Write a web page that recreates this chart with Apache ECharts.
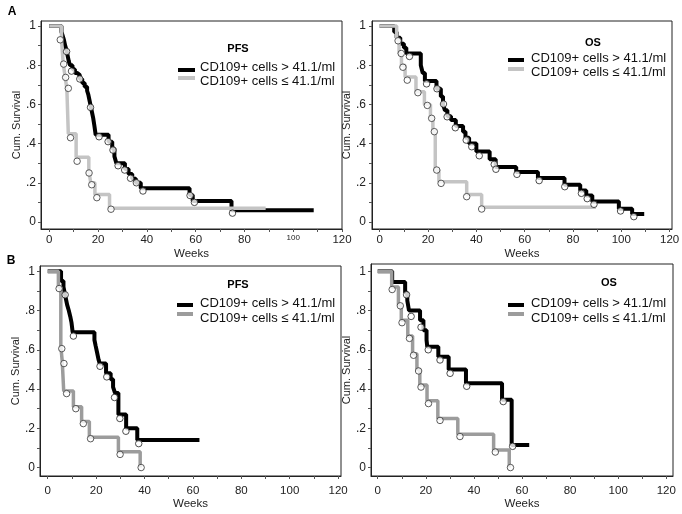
<!DOCTYPE html>
<html><head><meta charset="utf-8">
<script src="https://cdn.jsdelivr.net/npm/echarts@6/dist/echarts.min.js"></script>
<style>html,body{margin:0;padding:0;background:#fff}#c{width:682px;height:514px}</style>
</head><body><div id="c"></div>
<script>
// ---------- texts & ticks ----------
const weekTicks = [0, 20, 40, 60, 80, 100, 120];
const weekMinorTicks = [0, 10, 20, 30, 40, 50, 60, 70, 80, 90, 100, 110, 120];
const survTicks = [0, 0.2, 0.4, 0.6, 0.8, 1];
const survMinorTicks = [0, 0.1, 0.2, 0.3, 0.4, 0.5, 0.6, 0.7, 0.8, 0.9, 1];
const panelTitles = ['PFS', 'OS', 'PFS', 'OS'];
const panelLetters = ['A', 'B'];
const groupNames = ['CD109+ cells > 41.1/ml', 'CD109+ cells \u2264 41.1/ml'];
const xAxisName = 'Weeks';
const yAxisName = 'Cum. Survival';

// ---------- A: PFS ----------
const aPfsHighT = [0,5,5.5,6,6.5,7,7.5,8,8.5,9.5,10.5,11.5,12.5,13.5,14.5,15.5,16,16.5,17,17.5,18,18.5,19,24.3,25.8,26.7,27.5,31,32.5,34,35.5,37.5,57.5,58.8,74.7,108.4];
const aPfsHighS = [1,0.97,0.95,0.93,0.9,0.88,0.85,0.82,0.8,0.78,0.76,0.75,0.73,0.71,0.69,0.67,0.65,0.62,0.59,0.56,0.53,0.49,0.445,0.41,0.375,0.335,0.3,0.27,0.245,0.22,0.2,0.172,0.138,0.107,0.06,0.06];
const aPfsHighCensT = [7.1,9.1,12.5,16.9,20.4,24.1,26.1,28.2,30.9,33.3,35.7,38.4,57.7,59.5,75.1];
const aPfsHighCensS = [0.87,0.77,0.73,0.585,0.435,0.41,0.367,0.287,0.265,0.223,0.2,0.158,0.135,0.1,0.045];
const aPfsLowT = [0,5,5.7,6.5,7.2,7.8,11,16.2,17,18.7,24.7,88.7];
const aPfsLowS = [1,0.93,0.81,0.74,0.68,0.45,0.33,0.26,0.2,0.14,0.07,0.07];
const aPfsLowCensT = [4.5,5.9,6.7,7.8,8.7,11.4,16.3,17.4,19.5,25.3];
const aPfsLowCensS = [0.93,0.806,0.738,0.682,0.43,0.31,0.25,0.19,0.124,0.065];

// ---------- A: OS ----------
const aOsHighT = [0,6,7,8.5,10,11,17,17.8,18.7,23.5,25.3,26.2,27,28,29.5,31.5,34.5,35.5,37,40,45.5,48,56.5,65.5,76.5,83,85.5,88,99,104.5,109.5];
const aOsHighS = [1,0.97,0.94,0.91,0.89,0.86,0.8,0.76,0.72,0.68,0.64,0.6,0.57,0.54,0.52,0.49,0.46,0.43,0.4,0.36,0.32,0.28,0.255,0.225,0.19,0.16,0.135,0.105,0.067,0.04,0.04];
const aOsHighCensT = [12.3,19.4,23.7,26.4,27.9,31.3,35.8,38.1,41.2,47.4,48.1,56.8,66,76.6,83.5,85.9,88.7,99.7,105.2];
const aOsHighCensS = [0.845,0.705,0.68,0.602,0.537,0.481,0.418,0.384,0.338,0.294,0.269,0.243,0.211,0.18,0.146,0.119,0.09,0.056,0.027];
const aOsLowT = [0,7,8,9,10.5,15,18.5,21,22,23,24.5,36,42.2,89.5];
const aOsLowS = [1,0.93,0.86,0.8,0.74,0.665,0.6,0.53,0.46,0.265,0.205,0.14,0.075,0.075];
const aOsLowCensT = [7.6,8.9,9.6,11.4,15.8,19.7,21.5,22.6,23.6,25.4,36,42.2];
const aOsLowCensS = [0.925,0.86,0.79,0.724,0.66,0.595,0.529,0.461,0.265,0.197,0.129,0.066];

// ---------- B: PFS ----------
const bPfsHighT = [0,5.5,6.5,7,7.5,8,8.7,9.3,9.8,10.3,19.3,19.8,20.5,21,21.5,24.1,26,27,27.8,29.2,32.4,37,62.7];
const bPfsHighS = [1,0.95,0.92,0.89,0.86,0.83,0.8,0.77,0.74,0.69,0.65,0.62,0.58,0.55,0.53,0.48,0.45,0.41,0.38,0.27,0.2,0.14,0.14];
const bPfsHighCensT = [7.2,10.6,21.6,24.4,27.6,29.8,32.3,37.6];
const bPfsHighCensS = [0.88,0.67,0.516,0.462,0.357,0.25,0.185,0.122];
const bPfsLowT = [0,4.4,5.4,6,6.6,10.6,14,17.2,29.2,38.2];
const bPfsLowS = [1,0.92,0.62,0.54,0.39,0.31,0.235,0.155,0.08,0];
const bPfsLowCensT = [4.7,5.8,6.7,7.8,11.6,14.7,17.7,29.9,38.6];
const bPfsLowCensS = [0.912,0.606,0.53,0.377,0.3,0.224,0.147,0.067,0];

// ---------- B: OS ----------
const bOsHighT = [0,6,11.4,12.3,13,17.6,19,20.3,20.6,25.2,29.5,36.7,51.7,55.7,63];
const bOsHighS = [1,0.945,0.89,0.85,0.8,0.75,0.7,0.65,0.615,0.565,0.5,0.43,0.345,0.115,0.115];
const bOsHighCensT = [12,13.9,18,21,25.9,30.1,37,52.2,56.1];
const bOsHighCensS = [0.88,0.77,0.715,0.6,0.548,0.48,0.414,0.336,0.108];
const bOsLowT = [0,5.8,8.6,9.8,12.5,14.5,16.3,17.5,20.5,25,33.3,48.2,54.7];
const bOsLowS = [1,0.92,0.83,0.75,0.67,0.58,0.5,0.42,0.34,0.25,0.17,0.09,0];
const bOsLowCensT = [6,9.4,10.1,13.2,14.9,17,18,21.1,25.9,34.2,48.9,55.2];
const bOsLowCensS = [0.907,0.824,0.738,0.658,0.572,0.492,0.41,0.326,0.24,0.158,0.079,0];

const curves = [
  {hT:aPfsHighT,hS:aPfsHighS,hcT:aPfsHighCensT,hcS:aPfsHighCensS,lT:aPfsLowT,lS:aPfsLowS,lcT:aPfsLowCensT,lcS:aPfsLowCensS},
  {hT:aOsHighT,hS:aOsHighS,hcT:aOsHighCensT,hcS:aOsHighCensS,lT:aOsLowT,lS:aOsLowS,lcT:aOsLowCensT,lcS:aOsLowCensS},
  {hT:bPfsHighT,hS:bPfsHighS,hcT:bPfsHighCensT,hcS:bPfsHighCensS,lT:bPfsLowT,lS:bPfsLowS,lcT:bPfsLowCensT,lcS:bPfsLowCensS},
  {hT:bOsHighT,hS:bOsHighS,hcT:bOsHighCensT,hcS:bOsHighCensS,lT:bOsLowT,lS:bOsLowS,lcT:bOsLowCensT,lcS:bOsLowCensS}
];

// ---------- layout (pixels / styles) ----------
const FONT = '"Liberation Sans", Arial, sans-serif';
const layout = [
  {left:41, top:21, width:301, height:208, xMin:-3.4, xMax:120, yMin:-0.036, yMax:1.026, gray:'#c4c4c4',
   xLabelMargin:5, xNameGap:19, yNameGap:12, yLabelMargin:5,
   title:[238, 49], legLine:[178,195,70,78], legText:[200,67.7,81.7]},
  {left:372, top:21, width:300, height:208, xMin:-3.2, xMax:121, yMin:-0.036, yMax:1.026, gray:'#c4c4c4',
   xLabelMargin:5, xNameGap:19, yNameGap:13, yLabelMargin:6,
   title:[593, 43], legLine:[508,524,60,69], legText:[531,58.3,72.7]},
  {left:40, top:266, width:301, height:210, xMin:-3.2, xMax:121.2, yMin:-0.043, yMax:1.027, gray:'#9c9c9c',
   xLabelMargin:9, xNameGap:21, yNameGap:11, yLabelMargin:5,
   title:[238, 285], legLine:[177,193,305,314], legText:[200,303.7,318.7]},
  {left:371, top:264, width:302, height:212, xMin:-2.8, xMax:122.8, yMin:-0.043, yMax:1.037, gray:'#9c9c9c',
   xLabelMargin:9, xNameGap:21, yNameGap:12, yLabelMargin:5,
   title:[609, 283], legLine:[508,524,305,314], legText:[531,303,318]}
];
const letterPos = [[12, 12], [11, 261]];

const pts = (T, S) => T.map((t, i) => [t, S[i]]);

const grid = [], xAxis = [], yAxis = [], series = [], graphic = [];
layout.forEach((p, i) => {
  grid.push({left:p.left, top:p.top, width:p.width, height:p.height, show:true,
    borderColor:'#222', borderWidth:1, containLabel:false, outerBoundsMode:'none'});
  xAxis.push({type:'value', gridIndex:i, min:p.xMin, max:p.xMax,
    name:xAxisName, nameLocation:'middle', nameGap:p.xNameGap,
    nameTextStyle:{fontSize:11.5, color:'#222', fontFamily:FONT},
    axisLine:{show:true, onZero:false, lineStyle:{color:'#222', width:1}},
    axisTick:{show:true, customValues:weekMinorTicks, length:3, lineStyle:{color:'#555'}},
    axisLabel:{customValues:weekTicks, margin:p.xLabelMargin, fontSize:11.5, color:'#222', fontFamily:FONT,
      formatter: v => (i === 0 && v === 100) ? '{s|100}' : String(v),
      rich:{s:{fontSize:8, padding:[0,0,9,0], color:'#222', fontFamily:FONT}}},
    splitLine:{show:false}});
  yAxis.push({type:'value', gridIndex:i, min:p.yMin, max:p.yMax,
    name:yAxisName, nameLocation:'middle', nameRotate:90, nameGap:p.yNameGap,
    nameTextStyle:{fontSize:11, color:'#222', fontFamily:FONT},
    axisLine:{show:true, onZero:false, lineStyle:{color:'#222', width:1}},
    axisTick:{show:true, customValues:survMinorTicks, length:3, lineStyle:{color:'#555'}},
    axisLabel:{customValues:survTicks, margin:p.yLabelMargin, fontSize:12, color:'#222', fontFamily:FONT,
      padding:[5,0,0,0],
      formatter: v => v === 0 ? '0' : v === 1 ? '1' : String(+v.toFixed(1)).replace(/^0/, '')},
    splitLine:{show:false}});

  const c = curves[i];
  series.push({type:'line', name:groupNames[0], xAxisIndex:i, yAxisIndex:i, step:'end', showSymbol:false,
    data:pts(c.hT, c.hS), lineStyle:{color:'#000', width:4}, itemStyle:{color:'#000'}, z:2, silent:true});
  series.push({type:'line', name:groupNames[1], xAxisIndex:i, yAxisIndex:i, step:'end', showSymbol:false,
    data:pts(c.lT, c.lS), lineStyle:{color:p.gray, width:3.5}, itemStyle:{color:p.gray}, z:3, silent:true});
  series.push({type:'scatter', xAxisIndex:i, yAxisIndex:i, data:pts(c.hcT, c.hcS), symbol:'circle', symbolSize:6.5,
    itemStyle:{color:'#fff', borderColor:'#222', borderWidth:1}, z:5, silent:true});
  series.push({type:'scatter', xAxisIndex:i, yAxisIndex:i, data:pts(c.lcT, c.lcS), symbol:'circle', symbolSize:6.5,
    itemStyle:{color:'#fff', borderColor:'#333', borderWidth:1}, z:5, silent:true});

  // legend block
  graphic.push({type:'text', x:p.title[0], y:p.title[1], silent:true,
    style:{text:panelTitles[i], align:'center', verticalAlign:'middle', fill:'#000',
      font:'bold 11px ' + FONT}});
  const L = p.legLine;
  graphic.push({type:'line', silent:true, shape:{x1:L[0], y1:L[2], x2:L[1], y2:L[2]}, style:{stroke:'#000', lineWidth:4}});
  graphic.push({type:'line', silent:true, shape:{x1:L[0], y1:L[3], x2:L[1], y2:L[3]}, style:{stroke:p.gray, lineWidth:4}});
  graphic.push({type:'text', x:p.legText[0], y:p.legText[1], silent:true,
    style:{text:groupNames[0], align:'left', verticalAlign:'middle', fill:'#111', font:'13px ' + FONT}});
  graphic.push({type:'text', x:p.legText[0], y:p.legText[2], silent:true,
    style:{text:groupNames[1], align:'left', verticalAlign:'middle', fill:'#111', font:'13px ' + FONT}});
});
panelLetters.forEach((t, k) => {
  graphic.push({type:'text', x:letterPos[k][0], y:letterPos[k][1], silent:true,
    style:{text:t, align:'center', verticalAlign:'middle', fill:'#000', font:'bold 12px ' + FONT}});
});

const chart = echarts.init(document.getElementById('c'), null, {renderer:'canvas'});
chart.setOption({animation:false, backgroundColor:'#fff', grid, xAxis, yAxis, series, graphic});
</script>
</body></html>
